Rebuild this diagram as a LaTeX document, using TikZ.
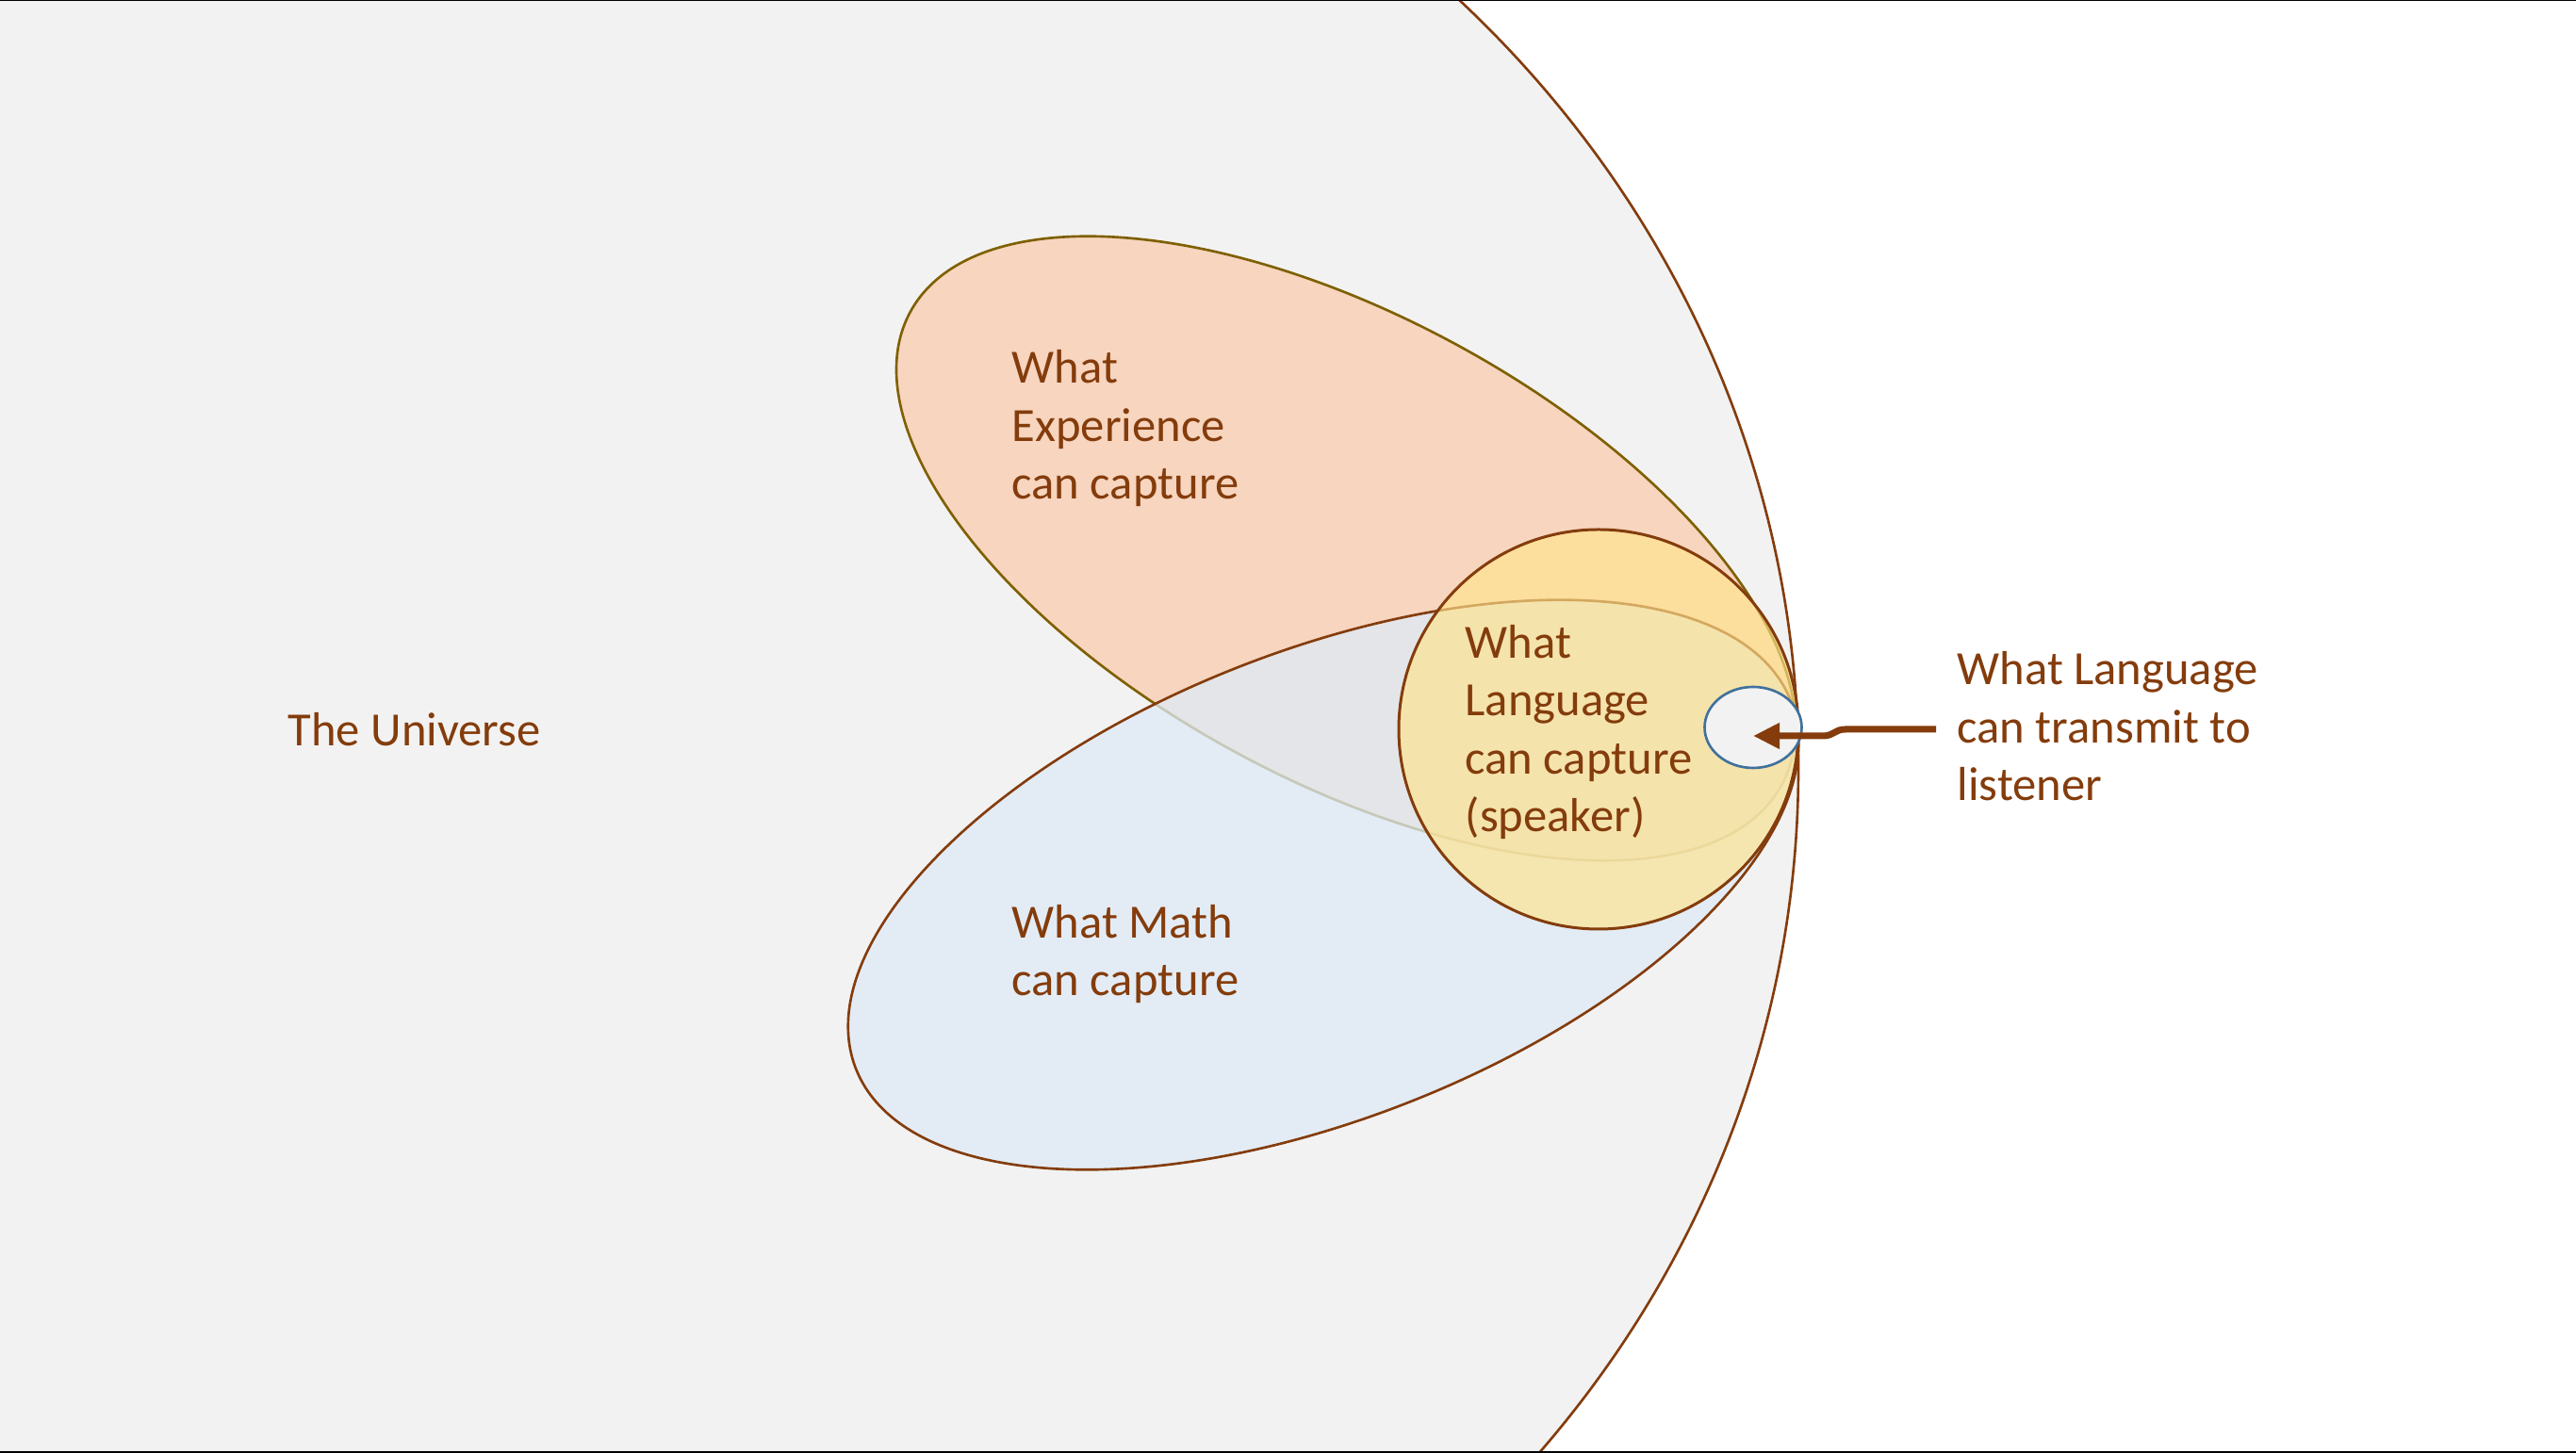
\documentclass[tikz,border=0pt]{standalone}
\usepackage{fontspec}
\setmainfont{Carlito}
\usetikzlibrary{arrows.meta,shapes.geometric,positioning}
\definecolor{rust}{HTML}{843C0C}
\definecolor{expline}{HTML}{7F6000}
\definecolor{univfill}{HTML}{F2F2F2}
\definecolor{expfill}{HTML}{F7D5BF}
\definecolor{mathfill}{HTML}{DEEBF7}
\definecolor{langfill}{HTML}{FFE38C}
\definecolor{heardline}{HTML}{41719C}
\tikzset{
  region/.style={line width=0.75pt},
  tag/.style={font=\fontsize{14.4}{17.5}\selectfont, text=rust, align=left, inner sep=0pt, anchor=base west},
  sendarrow/.style={-{Triangle[length=2.8mm,width=2.6mm]}, line width=2pt, rust}
}

\begin{document}
\begin{tikzpicture}
  \useasboundingbox (0,0) rectangle (27.33,15.42);
  \begin{scope}
    \clip (0,0) rectangle (27.33,15.42);
    \draw[region, draw=rust, fill=univfill] (6.86,7.27) ellipse [x radius=12.22, y radius=11.50];
    \draw[region, draw=expline, fill=expfill, rotate around={-28.5:(14.28,9.60)}] (14.28,9.60) ellipse [x radius=5.26, y radius=2.46];
    \draw[region, draw=rust, fill=mathfill, fill opacity=0.75, rotate around={21.5:(14.04,6.03)}] (14.04,6.03) ellipse [x radius=5.33, y radius=2.48];
    \draw[region, line width=0.85pt, draw=rust, fill=langfill, fill opacity=0.65] (16.96,7.68) circle [radius=2.12];
  \end{scope}
  \node[ellipse, draw=heardline, line width=0.75pt, fill=univfill, minimum width=1.03cm, minimum height=0.86cm, inner sep=0pt] (heard) at (18.60,7.70) {};

  % base anchor sits on the last line
  \node[tag] (universe) at (3.05,7.50) {The Universe};
  \node[tag] (experience) at (10.73,10.12) {What\\Experience\\can capture};
  \node[tag] (math) at (10.73,4.85) {What Math\\can capture};
  \node[tag] (speaker) at (15.54,6.59) {What\\Language\\can capture\\(speaker)};
  \node[tag] (listener) at (20.76,6.92) {What Language\\can transmit to\\listener};

  \coordinate (tail) at (20.54,7.68);
  \draw[sendarrow] (tail) -- (19.58,7.68) .. controls (19.46,7.68) and (19.46,7.61) .. (19.34,7.61) -- ([yshift=-0.9mm]heard.center);

  % slide frame
  \draw[line width=0.75pt] (0,15.42) -- (27.33,15.42);
  \draw[line width=1.15pt] (0,0) -- (27.33,0);
\end{tikzpicture}
\end{document}
